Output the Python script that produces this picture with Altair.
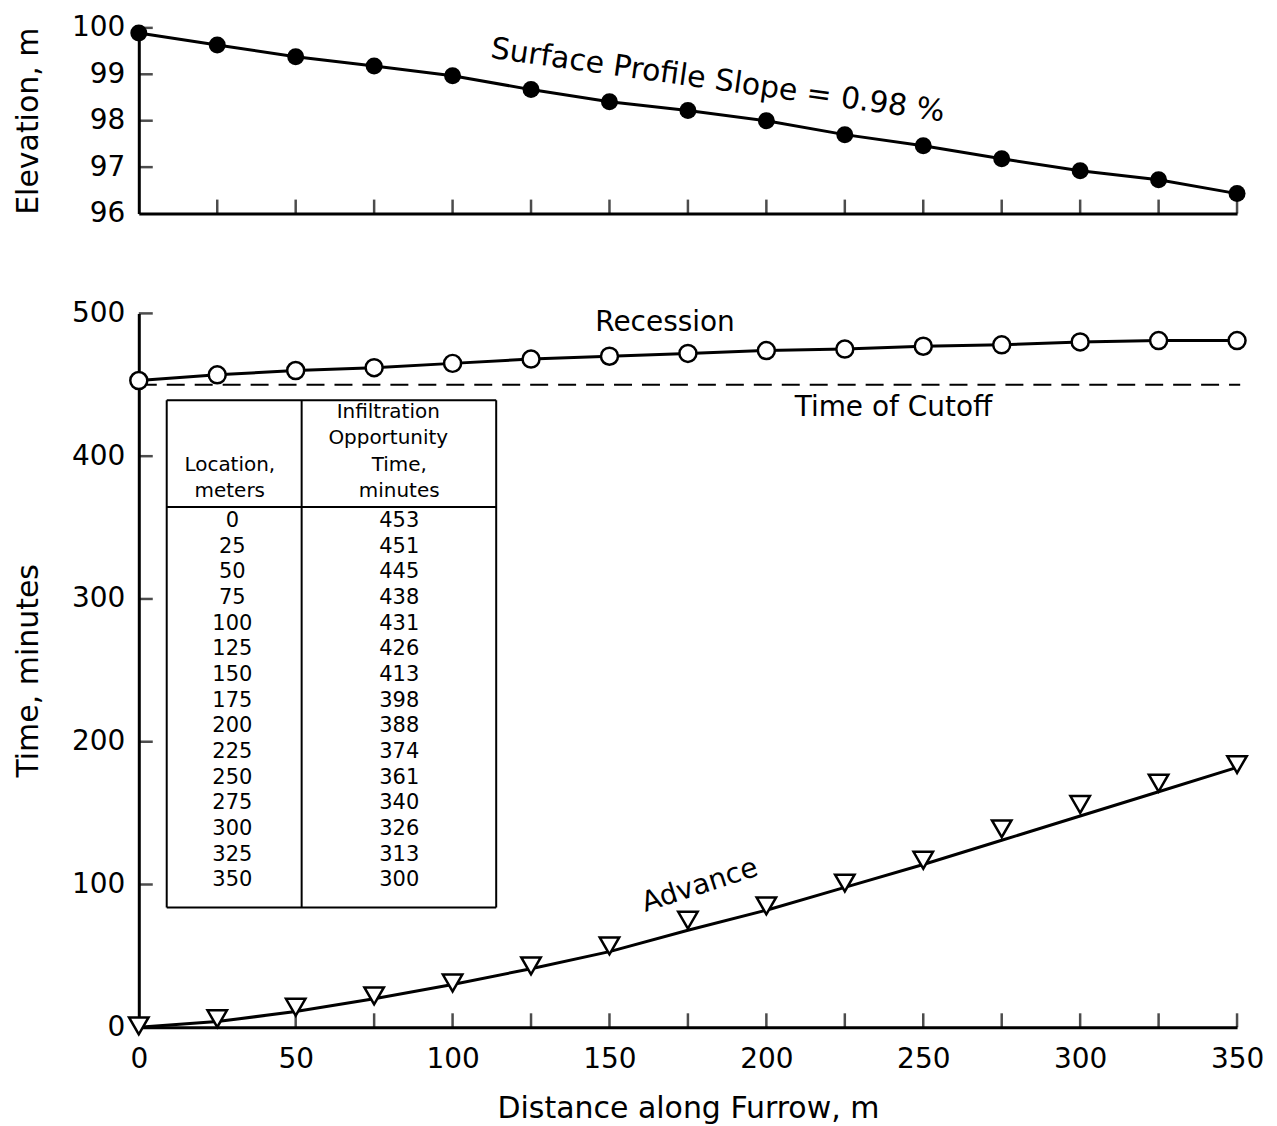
import altair as alt
import pandas as pd

# ---------------- data ----------------
distance = [0, 25, 50, 75, 100, 125, 150, 175, 200, 225, 250, 275, 300, 325, 350]
elevation = [99.89, 99.63, 99.38, 99.18, 98.97, 98.67, 98.41, 98.22, 98.00,
             97.70, 97.46, 97.18, 96.92, 96.73, 96.43]
recession = [453, 457, 460, 462, 465, 468, 470, 472, 474, 475, 477, 478, 480, 481, 481]
advance = [1, 6, 14, 22, 31, 43, 57, 75, 85, 101, 117, 139, 156, 171, 184]
advance_fit = [0, 4, 11, 20, 30, 41, 53, 68, 82, 98, 114, 131, 148, 165, 182]
opportunity = [453, 451, 445, 438, 431, 426, 413, 398, 388, 374, 361, 340, 326, 313, 300]
cutoff_time = [450]

x_tick_values = [0, 25, 50, 75, 100, 125, 150, 175, 200, 225, 250, 275, 300, 325, 350]
x_label_values = [0, 50, 100, 150, 200, 250, 300, 350]
elev_label_values = [96, 97, 98, 99, 100]
elev_tick_values = [97, 98, 99, 100]
time_label_values = [0, 100, 200, 300, 400, 500]
time_tick_values = [100, 200, 300, 400, 500]

table_header_left = ["Location,", "meters"]
table_header_right = ["Infiltration", "Opportunity", "Time,", "minutes"]

# ---------------- styling ----------------
FONT = "DejaVu Sans"
W = 1100
H_TOP = 186
H_BOT = 715
TICK_LEN = 14

x_scale = alt.Scale(domain=[0, 350], nice=False, zero=False)
elev_scale = alt.Scale(domain=[96, 100], nice=False, zero=False)
time_scale = alt.Scale(domain=[0, 500], nice=False, zero=False)

top_x_axis = alt.Axis(labels=False, ticks=False, tickSize=0, title=None, grid=False)
bot_x_axis = alt.Axis(values=x_label_values, ticks=False, tickSize=0, grid=False, labelFlush=False,
                      title="Distance along Furrow, m", labelPadding=18, titlePadding=20,
                      labelFontSize=28, titleFontSize=30)
elev_axis = alt.Axis(values=elev_label_values, ticks=False, tickSize=0, grid=False, labelFlush=False,
                     title="Elevation, m", labelPadding=14, titlePadding=28,
                     labelFontSize=28, titleFontSize=30)
time_axis = alt.Axis(values=time_label_values, ticks=False, tickSize=0, grid=False, labelFlush=False,
                     title="Time, minutes", labelPadding=14, titlePadding=28,
                     labelFontSize=28, titleFontSize=30)


def XT(field):
    return alt.X(field, type="quantitative", scale=x_scale, axis=top_x_axis)


def XB(field):
    return alt.X(field, type="quantitative", scale=x_scale, axis=bot_x_axis)


def YE(field):
    return alt.Y(field, type="quantitative", scale=elev_scale, axis=elev_axis)


def YT(field):
    return alt.Y(field, type="quantitative", scale=time_scale, axis=time_axis)


# ---------------- top panel: surface profile ----------------
top_df = pd.DataFrame({"d": distance, "e": elevation})
top_line = alt.Chart(top_df).mark_line(color="black", strokeWidth=3).encode(x=XT("d"), y=YE("e"))
top_pts = alt.Chart(top_df).mark_circle(size=290, color="black", opacity=1).encode(x=XT("d"), y=YE("e"))

top_xticks = alt.Chart(pd.DataFrame({"d": x_tick_values[1:], "e": [96] * (len(x_tick_values) - 1)})).mark_tick(
    orient="vertical", size=TICK_LEN, thickness=2.5, color="black", yOffset=-TICK_LEN / 2
).encode(x=XT("d"), y=YE("e"))
top_yticks = alt.Chart(pd.DataFrame({"d": [0] * len(elev_tick_values), "e": elev_tick_values})).mark_tick(
    orient="horizontal", size=TICK_LEN, thickness=2.5, color="black", xOffset=TICK_LEN / 2
).encode(x=XT("d"), y=YE("e"))

slope_txt = alt.Chart(pd.DataFrame({"d": [184.5], "e": [98.86], "t": ["Surface Profile Slope = 0.98 %"]})).mark_text(
    font=FONT, fontSize=30, angle=8, color="black"
).encode(x=XT("d"), y=YE("e"), text="t:N")

top = alt.layer(top_xticks, top_yticks, top_line, top_pts, slope_txt).properties(width=W, height=H_TOP)

# ---------------- bottom panel: advance / recession ----------------
bot_df = pd.DataFrame({"d": distance, "rec": recession, "adv": advance, "fit": advance_fit})

cut_df = pd.DataFrame({"d": [0], "d2": [351], "t": cutoff_time})
cut_rule = alt.Chart(cut_df).mark_rule(color="black", strokeWidth=2, strokeDash=[18, 10]).encode(
    x=XB("d"), x2="d2:Q", y=YT("t"))

rec_line = alt.Chart(bot_df).mark_line(color="black", strokeWidth=3).encode(x=XB("d"), y=YT("rec"))
rec_pts = alt.Chart(bot_df).mark_point(shape="circle", size=290, filled=True, fill="white",
                                       stroke="black", strokeWidth=2.5, opacity=1).encode(x=XB("d"), y=YT("rec"))
adv_line = alt.Chart(bot_df).mark_line(color="black", strokeWidth=3).encode(x=XB("d"), y=YT("fit"))
adv_pts = alt.Chart(bot_df).mark_point(shape="triangle-down", size=380, filled=True, fill="white",
                                       stroke="black", strokeWidth=2.5, opacity=1).encode(x=XB("d"), y=YT("adv"))

bot_xticks = alt.Chart(pd.DataFrame({"d": x_tick_values[1:], "t": [0] * (len(x_tick_values) - 1)})).mark_tick(
    orient="vertical", size=TICK_LEN, thickness=2.5, color="black", yOffset=-TICK_LEN / 2
).encode(x=XB("d"), y=YT("t"))
bot_yticks = alt.Chart(pd.DataFrame({"d": [0] * len(time_tick_values), "t": time_tick_values})).mark_tick(
    orient="horizontal", size=TICK_LEN, thickness=2.5, color="black", xOffset=TICK_LEN / 2
).encode(x=XB("d"), y=YT("t"))

ann_df = pd.DataFrame({
    "d": [167.7, 240.5],
    "t": [493, 433.6],
    "s": ["Recession", "Time of Cutoff"],
})
ann = alt.Chart(ann_df).mark_text(font=FONT, fontSize=28, color="black").encode(x=XB("d"), y=YT("t"), text="s:N")
adv_txt = alt.Chart(pd.DataFrame({"d": [178.8], "t": [99], "s": ["Advance"]})).mark_text(
    font=FONT, fontSize=28, angle=342, color="black").encode(x=XB("d"), y=YT("t"), text="s:N")

bot_main = alt.layer(cut_rule, bot_xticks, bot_yticks, rec_line, rec_pts, adv_line, adv_pts, ann, adv_txt)

# ---------------- inset table (own vertical scale in table rows) ----------------
row_scale = alt.Scale(domain=[-8.09, 19.73], reverse=True, nice=False, zero=False)
cells_df = pd.DataFrame({
    "row": list(range(len(distance))),
    "loc": [str(v) for v in distance],
    "opp": [str(v) for v in opportunity],
    "xl": [29.8] * len(distance),
    "xr": [83.0] * len(distance),
})
cells_l = alt.Chart(cells_df).mark_text(font=FONT, fontSize=21, color="black").encode(
    x=XB("xl"), y=alt.Y("row:Q", scale=row_scale, axis=None), text="loc:N")
cells_r = alt.Chart(cells_df).mark_text(font=FONT, fontSize=21, color="black").encode(
    x=XB("xr"), y=alt.Y("row:Q", scale=row_scale, axis=None), text="opp:N")

head_df = pd.DataFrame({
    "s": table_header_left + table_header_right,
    "xh": [29.0, 29.0, 79.5, 79.5, 83.0, 83.0],
    "row": [-2.18, -1.17, -4.24, -3.23, -2.18, -1.17],
})
heads = alt.Chart(head_df).mark_text(font=FONT, fontSize=20, color="black").encode(
    x=XB("xh"), y=alt.Y("row:Q", scale=row_scale, axis=None), text="s:N")

box_df = pd.DataFrame({
    "xa": [8.9, 8.9, 8.9, 113.9, 8.9, 51.9],
    "xb": [113.9, 113.9, 8.9, 113.9, 113.9, 51.9],
    "ya": [-4.71, 15.06, -4.71, -4.71, -0.545, -4.71],
    "yb": [-4.71, 15.06, 15.06, 15.06, -0.545, 15.06],
})
box = alt.Chart(box_df).mark_rule(color="black", strokeWidth=2).encode(
    x=XB("xa"), x2="xb:Q", y=alt.Y("ya:Q", scale=row_scale, axis=None), y2="yb:Q")

table = alt.layer(box, heads, cells_l, cells_r)

bottom = alt.layer(bot_main, table).resolve_scale(y="independent").properties(width=W, height=H_BOT)

chart = alt.vconcat(top, bottom, spacing=72).configure_view(stroke=None).configure_axis(
    domainColor="black", domainWidth=3, labelColor="black", titleColor="black",
    labelFont=FONT, titleFont=FONT, titleFontWeight="normal", grid=False
).properties(padding=5)

chart.save("out.html", embed_options={"renderer": "svg", "actions": False})
